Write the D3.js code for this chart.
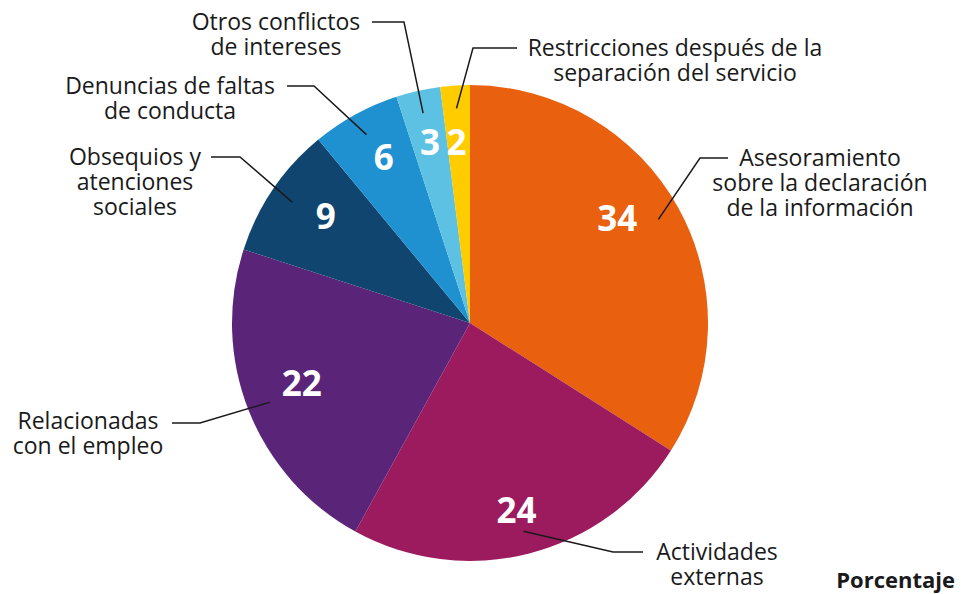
<!DOCTYPE html>
<html>
<head>
<meta charset="utf-8">
<title>Porcentaje</title>
<script src="https://d3js.org/d3.v7.min.js"></script>
<style>
  body { margin: 0; background: #fff; }
  .cat { font-family: "Open Sans", sans-serif; font-size: 23px; fill: #1a1a1a; }
  .num { font-family: "Open Sans", sans-serif; font-size: 35px; font-weight: 700; fill: #fff; }
  .unit { font-family: "Open Sans", sans-serif; font-size: 22px; font-weight: 700; fill: #1a1a1a; }
</style>
</head>
<body>
<svg class="chart"></svg>
<script>
// data
var categories = [
  "Asesoramiento\nsobre la declaración\nde la información",
  "Actividades\nexternas",
  "Relacionadas\ncon el empleo",
  "Obsequios y\natenciones\nsociales",
  "Denuncias de faltas\nde conducta",
  "Otros conflictos\nde intereses",
  "Restricciones después de la\nseparación del servicio"
];
var values = [34, 24, 22, 9, 6, 3, 2];
var colors = ["#e9600e", "#9c1b5e", "#5a2479", "#0f456f", "#1f91d0", "#5dc1e3", "#ffcc00"];

// label placement: elbow of leader line, end of horizontal run, text centre,
// and a small nudge for the number inside each slice
var callouts = [
  {elbow: [700, 158], end: [728, 158], text: [820, 158], nudge: [-13, -16]},
  {elbow: [613, 552], end: [643, 552], text: [717, 552], nudge: [1, 10]},
  {elbow: [200, 423], end: [172, 423], text: [88, 421],  nudge: [2, -7]},
  {elbow: [240, 157], end: [211, 157], text: [135, 157], nudge: [7, -4]},
  {elbow: [314, 86],  end: [287, 86],  text: [170, 86],  nudge: [2, -5]},
  {elbow: [404, 22],  end: [372, 22],  text: [276, 22],  nudge: [0, -2]},
  {elbow: [473, 48],  end: [517, 48],  text: [675, 48],  nudge: [-2, 2]}
];

var svgWidth = 961, svgHeight = 594;
var cx = 470, cy = 323, radius = 238;

var svg = d3.select(".chart")
  .attr("width", svgWidth)
  .attr("height", svgHeight);

var pie = d3.pie().sort(null).value(function(d) { return d; });
var arcs = pie(values);

var arc = d3.arc().innerRadius(0).outerRadius(radius);
var numArc = d3.arc().innerRadius(183).outerRadius(183);
var lineArc = d3.arc().innerRadius(215).outerRadius(215);

var g = svg.append("g").attr("transform", "translate(" + cx + "," + cy + ")");

g.selectAll("path.slice")
  .data(arcs).enter().append("path")
    .attr("class", "slice")
    .attr("d", arc)
    .attr("fill", function(d, i) { return colors[i]; });

g.selectAll("text.num")
  .data(arcs).enter().append("text")
    .attr("class", "num")
    .attr("text-anchor", "middle")
    .attr("dy", "0.36em")
    .attr("transform", function(d, i) {
      var c = numArc.centroid(d);
      var n = callouts[i].nudge;
      return "translate(" + (c[0] + n[0]) + "," + (c[1] + n[1]) + ")";
    })
    .text(function(d) { return d.value; });

// leader lines
svg.selectAll("polyline.leader")
  .data(arcs).enter().append("polyline")
    .attr("class", "leader")
    .attr("fill", "none")
    .attr("stroke", "#1a1a1a")
    .attr("stroke-width", 1.5)
    .attr("points", function(d, i) {
      var p = lineArc.centroid(d);
      var c = callouts[i];
      return [[p[0] + cx, p[1] + cy], c.elbow, c.end].join(" ");
    });

// category labels
svg.selectAll("text.cat")
  .data(categories).enter().append("text")
    .attr("class", "cat")
    .attr("text-anchor", "middle")
    .each(function(d, i) {
      var lines = d.split("\n");
      var t = d3.select(this);
      var pos = callouts[i].text;
      lines.forEach(function(line, j) {
        t.append("tspan")
          .attr("x", pos[0])
          .attr("y", pos[1] + j * 25)
          .attr("dy", "0.35em")
          .text(line);
      });
    });

svg.append("text")
  .attr("class", "unit")
  .attr("x", 955)
  .attr("y", 588)
  .attr("text-anchor", "end")
  .text("Porcentaje");
</script>
</body>
</html>
